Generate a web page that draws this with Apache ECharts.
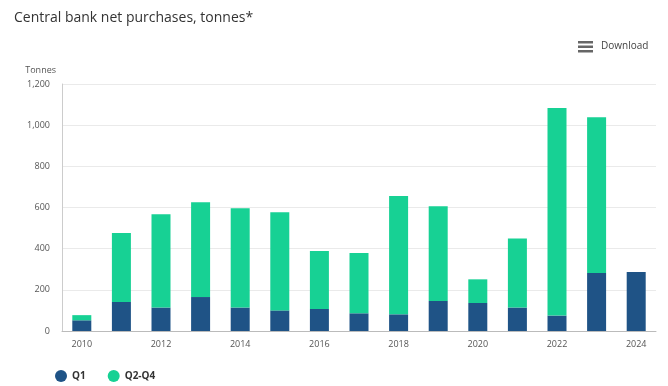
<!DOCTYPE html>
<html>
<head>
<meta charset="utf-8">
<script src="https://cdn.jsdelivr.net/npm/echarts@6/dist/echarts.min.js"></script>
<style>
  html, body { margin: 0; padding: 0; background: #fff; }
  #chart { width: 668px; height: 386px; }
</style>
</head>
<body>
<div id="chart"></div>
<script>
// years on the x axis
var years = ["2010", "2011", "2012", "2013", "2014", "2015", "2016", "2017",
  "2018", "2019", "2020", "2021", "2022", "2023", "2024"];
// first quarter purchases, tonnes
var q1 = [52, 141, 114, 165, 114, 100, 107, 86, 81, 146, 136, 114, 75, 282, 287];
// rest of year purchases, tonnes
var q2q4 = [25, 335, 453, 460, 482, 477, 282, 293, 575, 460, 115, 335, 1008, 756, null];

var myChart = echarts.init(document.getElementById("chart"));

var option = {
  animation: false,
  title: {
    text: "Central bank net purchases, tonnes*",
    left: 9,
    top: 6,
    textStyle: {
      fontFamily: "Open Sans",
      fontSize: 14,
      fontWeight: "normal",
      color: "#333"
    }
  },
  graphic: [
    { type: "rect", left: 578, top: 41, shape: { width: 15, height: 2.5 }, style: { fill: "#666" } },
    { type: "rect", left: 578, top: 45.5, shape: { width: 15, height: 2.5 }, style: { fill: "#666" } },
    { type: "rect", left: 578, top: 50, shape: { width: 15, height: 2.5 }, style: { fill: "#666" } },
    {
      type: "text", left: 601, top: 41,
      style: { text: "Download", fontFamily: "Open Sans", fontSize: 10, fill: "#444" }
    }
  ],
  legend: {
    left: 50,
    top: 365,
    icon: "circle",
    itemWidth: 12,
    itemHeight: 12,
    itemGap: 22,
    textStyle: { fontFamily: "Open Sans", fontSize: 10, color: "#333", fontWeight: "bold" },
    data: ["Q1", "Q2-Q4"]
  },
  grid: {
    left: 62,
    right: 12,
    top: 84,
    bottom: 55
  },
  xAxis: {
    type: "category",
    data: years,
    axisLine: { lineStyle: { color: "#bbb" } },
    axisTick: { show: false },
    axisLabel: {
      interval: 1,
      color: "#555",
      fontFamily: "Open Sans",
      fontSize: 9,
      margin: 9
    }
  },
  yAxis: {
    type: "value",
    min: 0,
    max: 1200,
    interval: 200,
    name: "Tonnes",
    nameLocation: "end",
    nameGap: 9,
    nameTextStyle: { fontFamily: "Open Sans", fontSize: 9, color: "#555", align: "right", padding: [0, 6, 0, 0] },
    axisLine: { show: true, lineStyle: { color: "#ccc" } },
    axisLabel: {
      color: "#555",
      fontFamily: "Open Sans",
      fontSize: 9,
      margin: 12,
      formatter: function (v) { return v.toLocaleString("en-US"); }
    },
    splitLine: { lineStyle: { color: "#eaeaea" } }
  },
  series: [
    {
      name: "Q1",
      type: "bar",
      stack: "total",
      data: q1,
      barWidth: 19,
      itemStyle: { color: "#1f5386" }
    },
    {
      name: "Q2-Q4",
      type: "bar",
      stack: "total",
      data: q2q4,
      barWidth: 19,
      itemStyle: { color: "#17d194" }
    }
  ]
};

myChart.setOption(option);
</script>
</body>
</html>
